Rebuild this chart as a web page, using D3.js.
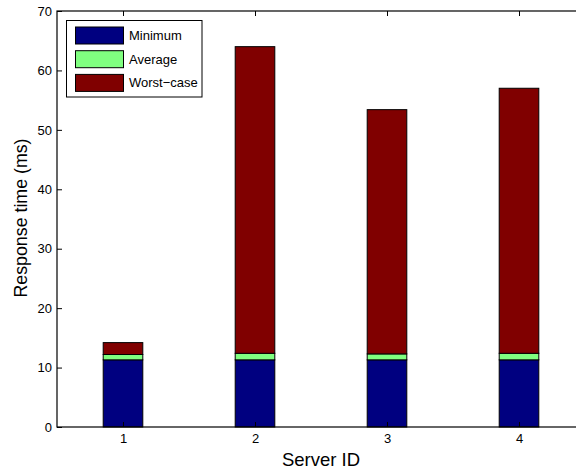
<!DOCTYPE html>
<html><head><meta charset="utf-8">
<script src="https://cdn.jsdelivr.net/npm/d3@7"></script>
<style>
html,body{margin:0;padding:0;background:#fff;overflow:hidden}
svg{display:block}
text{font-family:"Liberation Sans",Arial,Helvetica,sans-serif;fill:#000}
</style></head>
<body>
<svg id="c" width="576" height="473"></svg>
<script>
const categories = ["1","2","3","4"];
const minimum = [11.3, 11.3, 11.3, 11.3];
const average = [12.2, 12.4, 12.3, 12.4];
const worstCase = [14.2, 64.0, 53.4, 57.0];
const seriesNames = ["Minimum","Average","Worst\u2212case"];
const seriesColors = ["#000080","#80ff80","#800000"];
const yTicks = [0,10,20,30,40,50,60,70];

const svg = d3.select("#c");
const L = 57, R = 585, T = 11, B = 427;
const x = d3.scaleLinear().domain([0.5, 4.5]).range([L, R]);
const y = d3.scaleLinear().domain([0, 70]).range([B, T]);
const bw = (x(1) - x(0.5)) * 0.6;

const rows = categories.map((c,i)=>({c:+c, segs:[
  [0, minimum[i]], [minimum[i], average[i]], [average[i], worstCase[i]]
]}));

const g = svg.append("g");
rows.forEach(r=>{
  r.segs.forEach((s,k)=>{
    g.append("rect")
      .attr("x", x(r.c) - bw/2).attr("width", bw)
      .attr("y", y(s[1])).attr("height", y(s[0]) - y(s[1]))
      .attr("fill", seriesColors[k]).attr("stroke", "#000").attr("stroke-width", 1);
  });
});

// axes box
const ax = svg.append("g");
ax.append("rect").attr("x",L).attr("y",T).attr("width",R-L).attr("height",B-T)
  .attr("fill","none").attr("stroke","#000").attr("stroke-width",1.2);

const yAxis = d3.axisLeft(y).tickValues(yTicks).tickSize(-5).tickPadding(5).tickFormat(d3.format("d"));
const ya = svg.append("g").attr("transform",`translate(${L},0)`).call(yAxis);
const xAxis = d3.axisBottom(x).tickValues(categories.map(Number)).tickSize(-5).tickPadding(7).tickFormat(d3.format("d"));
const xa = svg.append("g").attr("transform",`translate(0,${B})`).call(xAxis);
const xt = svg.append("g").attr("transform",`translate(0,${T})`).call(d3.axisTop(x).tickValues(categories.map(Number)).tickSize(-5).tickFormat(""));
[ya,xa,xt].forEach(a=>{
  a.select(".domain").remove();
  a.selectAll(".tick line").attr("stroke","#000").attr("stroke-width",1);
  a.selectAll("text").attr("font-size","13px").attr("font-family","Liberation Sans, Arial, sans-serif").attr("fill","#000");
});

svg.append("text").attr("x", 321).attr("y", 466).attr("text-anchor","middle")
  .attr("font-size","18.5px").text("Server ID");
svg.append("text").attr("transform","translate(27,218) rotate(-90)").attr("text-anchor","middle")
  .attr("font-size","17.8px").text("Response time (ms)");

// legend
const lg = svg.append("g");
lg.append("rect").attr("x",66.5).attr("y",20.5).attr("width",135.5).attr("height",76.5)
  .attr("fill","#fff").attr("stroke","#000").attr("stroke-width",1);
seriesNames.forEach((n,k)=>{
  const yy = 27 + k*23.7;
  lg.append("rect").attr("x",75.5).attr("y",yy).attr("width",48).attr("height",17)
    .attr("fill",seriesColors[k]).attr("stroke","#000").attr("stroke-width",1);
  lg.append("text").attr("x",129).attr("y",yy+13).attr("font-size","13px").text(n);
});
</script>
</body></html>
